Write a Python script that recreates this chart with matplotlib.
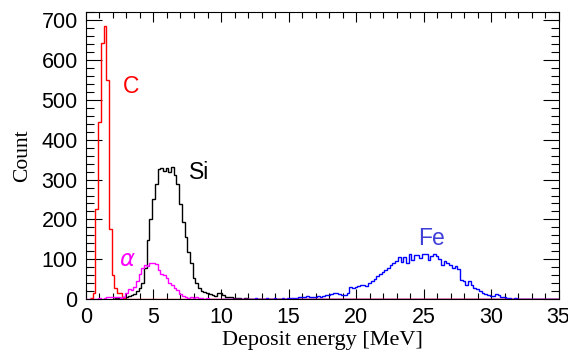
import matplotlib
matplotlib.use('Agg')
import matplotlib.pyplot as plt
import numpy as np
from matplotlib.ticker import MultipleLocator

# ---------------------------------------------------------DATOS
ancho_bin = 0.2          # MeV
x_max = 35.1             # ultimo borde de la rejilla

# C (rojo)
c_inicio = 0.3
c_cuentas = [3, 15, 227, 444, 642, 685, 551, 176, 60, 28, 15, 14, 3, 1, 0, 1]

# Si (negro)
si_inicio = 2.1
si_cuentas = [2, 2, 3, 5, 6, 8, 10, 12, 20, 28, 40, 79, 147, 200, 252, 289,
              327, 330, 322, 330, 318, 331, 312, 289, 239, 193, 155, 117, 91,
              53, 40, 28, 20, 18, 15, 12, 10, 8, 14, 16, 10, 6, 4, 4, 2, 3, 2,
              1, 2, 1, 0, 1]

# alfa (magenta)
a_inicio = -0.1
a_cuentas = [0, 0, 1, 0, 1, 2, 1, 2, 4, 4, 5, 5, 4, 3, 6, 14, 24, 22, 30, 45,
             62, 79, 85, 84, 91, 91, 88, 74, 64, 60, 53, 41, 34, 27, 22, 13, 8,
             5, 3, 4, 2, 4, 2, 3, 1, 2, 1, 0, 1]

# Fe (azul)
fe_inicio = 10.1
fe_cuentas = [1, 0, 1, 0, 0, 1, 1, 0, 1, 1, 0, 1, 2, 1, 1, 0, 2, 1, 1, 2,
              1, 0, 2, 1, 3, 2, 3, 3, 6, 5, 6, 8, 6, 5, 6, 7, 6, 8, 10, 11,
              13, 16, 14, 12, 11, 10, 14, 30, 27, 30, 33, 35, 36, 33, 40, 45,
              50, 57, 62, 68, 72, 78, 85, 90, 95, 105, 92, 106, 91, 112, 99,
              110, 111, 103, 114, 112, 97, 108, 112, 109, 101, 86, 95, 90, 86,
              78, 82, 75, 48, 44, 36, 44, 36, 27, 25, 19, 16, 12, 10, 8, 8, 13,
              10, 6, 4, 2, 2, 1, 2, 1, 0, 1, 1, 0, 1, 0, 0, 1, 0, 1]

# etiquetas de cada curva: (texto, x, y, color)
etiquetas = [('C', 3.35, 535, '#ff0000'),
             ('Si', 8.4, 318, 'black'),
             (r'$\alpha$', 3.1, 98, '#ff00ff'),
             ('Fe', 25.6, 152, '#4040d8')]
# -----------------------------------------------------FIN DATOS


def histograma(ax, inicio, cuentas, color, **kw):
    # rellena con ceros hasta el final del eje para dibujar la linea base
    n_total = int(round((x_max - inicio) / ancho_bin))
    valores = np.zeros(n_total)
    valores[:len(cuentas)] = cuentas
    bordes = inicio + ancho_bin * np.arange(n_total + 1)
    ax.stairs(valores, bordes, color=color, linewidth=1.0, baseline=None,
              zorder=3, **kw)


fig = plt.figure(figsize=(5.68, 3.58), dpi=100)
ax = fig.add_axes([0.1514, 0.1648, 0.8319, 0.8006])

histograma(ax, si_inicio, si_cuentas, 'black')
histograma(ax, c_inicio, c_cuentas, '#ff0000')
histograma(ax, fe_inicio, fe_cuentas, '#0000ff')
histograma(ax, a_inicio, a_cuentas, '#ff00ff')

for texto, xt, yt, col in etiquetas:
    ax.text(xt, yt, texto, color=col, fontsize=16.5, ha='center', va='center',
            family='Liberation Sans')

ax.set_xlim(0, 35)
ax.set_ylim(0, 720)
ax.xaxis.set_major_locator(MultipleLocator(5))
ax.xaxis.set_minor_locator(MultipleLocator(1))
ax.yaxis.set_major_locator(MultipleLocator(100))
ax.yaxis.set_minor_locator(MultipleLocator(20))

ax.tick_params(axis='both', which='both', direction='in', top=True, right=True,
               width=0.8, labelsize=15.5)
ax.tick_params(axis='x', which='major', length=7.2, pad=6)
ax.tick_params(axis='x', which='minor', length=4)
ax.tick_params(axis='y', which='major', length=11.5, pad=6)
ax.tick_params(axis='y', which='minor', length=5.8)
for lab in ax.get_xticklabels() + ax.get_yticklabels():
    lab.set_family('Liberation Sans')
for sp in ax.spines.values():
    sp.set_linewidth(0.8)

ax.set_xlabel('Deposit energy [MeV]', fontsize=16, family='Liberation Serif',
              labelpad=2)
ax.set_ylabel('Count', fontsize=15.5, family='Liberation Serif', labelpad=7)

fig.savefig('out.png', dpi=100)
